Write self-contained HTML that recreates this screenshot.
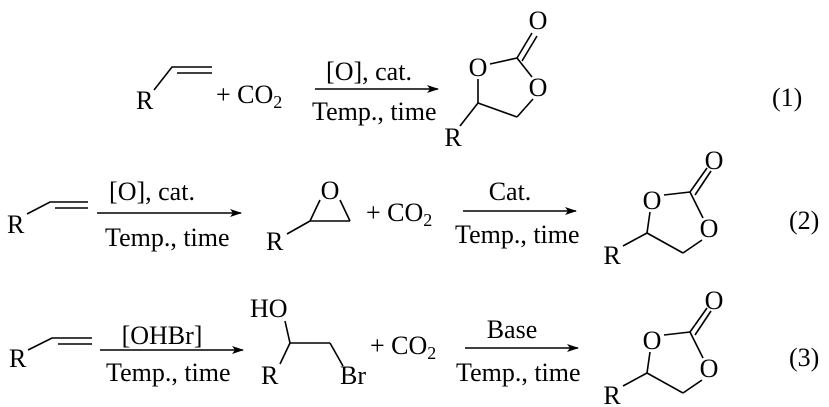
<!DOCTYPE html>
<html><head><meta charset="utf-8"><style>
html,body{margin:0;padding:0;background:#fff;}
svg{display:block;}
text{font-family:"Liberation Serif",serif;font-size:26px;fill:#000;}
line,polyline{stroke:#000;stroke-width:1.6;fill:none;}
</style></head><body>
<svg width="829" height="407" viewBox="0 0 829 407" xmlns="http://www.w3.org/2000/svg">
<defs>
<g id="ring">
 <line x1="647" y1="233" x2="650" y2="212"/>
 <line x1="664" y1="195" x2="690" y2="192"/>
 <line x1="690" y1="192" x2="707" y2="168"/>
 <line x1="695" y1="195" x2="711" y2="171"/>
 <line x1="690" y1="192" x2="703" y2="218"/>
 <line x1="702" y1="240" x2="683" y2="253"/>
 <line x1="683" y1="253" x2="647" y2="233"/>
 <line x1="647" y1="233" x2="623" y2="246"/>
 <text x="652" y="209" text-anchor="middle">O</text>
 <text x="714" y="169" text-anchor="middle">O</text>
 <text x="709" y="237" text-anchor="middle">O</text>
 <text x="612" y="264" text-anchor="middle">R</text>
</g>
<marker id="ah" markerWidth="12" markerHeight="8" refX="11" refY="4" orient="auto" markerUnits="userSpaceOnUse"><path d="M0,0 L12,4 L0,8 L3,4 Z" fill="#000"/></marker>
</defs>

<!-- Row 1 -->
<text x="136" y="109">R</text>
<polyline points="154,90 172,67 212,67"/>
<line x1="177" y1="73" x2="212" y2="73"/>
<text x="216" y="103">+ CO<tspan font-size="18" dy="5">2</tspan></text>
<line x1="315" y1="89" x2="438" y2="89" marker-end="url(#ah)"/>
<text x="369" y="80" text-anchor="middle">[O], cat.</text>
<text x="312" y="120">Temp., time</text>
<line x1="478" y1="103" x2="478" y2="79"/>
<line x1="490" y1="64" x2="517" y2="58"/>
<line x1="517" y1="58" x2="532" y2="33"/>
<line x1="522" y1="61" x2="537" y2="36"/>
<line x1="517" y1="58" x2="532" y2="77"/>
<line x1="533" y1="99" x2="517" y2="117"/>
<line x1="517" y1="117" x2="478" y2="103"/>
<line x1="478" y1="103" x2="460" y2="126"/>
<text x="478" y="76" text-anchor="middle">O</text>
<text x="538" y="29" text-anchor="middle">O</text>
<text x="538" y="96" text-anchor="middle">O</text>
<text x="453" y="146" text-anchor="middle">R</text>
<text x="772" y="106">(1)</text>

<!-- Row 2 -->
<text x="7" y="233">R</text>
<polyline points="27,214 50,202 88,202"/>
<line x1="55" y1="208" x2="88" y2="208"/>
<line x1="97" y1="213" x2="241" y2="213" marker-end="url(#ah)"/>
<text x="152" y="200" text-anchor="middle">[O], cat.</text>
<text x="105" y="246">Temp., time</text>
<line x1="320" y1="200" x2="310" y2="221"/>
<line x1="340" y1="200" x2="350" y2="221"/>
<line x1="310" y1="221" x2="350" y2="221"/>
<line x1="310" y1="221" x2="287" y2="234"/>
<text x="330" y="199" text-anchor="middle">O</text>
<text x="266" y="250">R</text>
<text x="366" y="221">+ CO<tspan font-size="18" dy="5">2</tspan></text>
<line x1="463" y1="211" x2="576" y2="211" marker-end="url(#ah)"/>
<text x="510" y="200" text-anchor="middle">Cat.</text>
<text x="455" y="243">Temp., time</text>
<use href="#ring"/>
<text x="789" y="229">(2)</text>

<!-- Row 3 -->
<text x="9" y="367">R</text>
<polyline points="28,350 52,338 92,338"/>
<line x1="58" y1="344" x2="92" y2="344"/>
<line x1="100" y1="350" x2="243" y2="350" marker-end="url(#ah)"/>
<text x="162" y="344" text-anchor="middle">[OHBr]</text>
<text x="106" y="381">Temp., time</text>
<text x="250" y="317">HO</text>
<line x1="285" y1="321" x2="290" y2="343"/>
<line x1="290" y1="343" x2="330" y2="343"/>
<line x1="330" y1="343" x2="343" y2="366"/>
<line x1="290" y1="343" x2="280" y2="364"/>
<text x="261" y="384">R</text>
<text x="340" y="384">Br</text>
<text x="370" y="354">+ CO<tspan font-size="18" dy="5">2</tspan></text>
<line x1="465" y1="348" x2="578" y2="348" marker-end="url(#ah)"/>
<text x="512" y="338" text-anchor="middle">Base</text>
<text x="456" y="381">Temp., time</text>
<use href="#ring" transform="translate(0,140)"/>
<text x="789" y="366">(3)</text>
</svg>
</body></html>
